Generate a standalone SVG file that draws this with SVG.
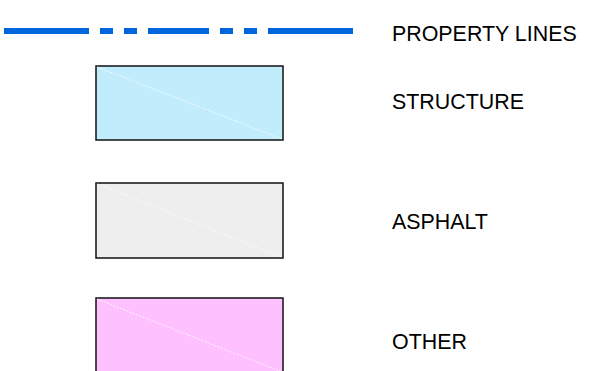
<svg xmlns="http://www.w3.org/2000/svg" width="604" height="371" viewBox="0 0 604 371">
<style>
.lbl{font-family:"Liberation Sans",Arial,sans-serif;font-size:21.4px;fill:#000}
.box{stroke:#111;stroke-width:1.5}
.diag{stroke:#fff;stroke-width:1;stroke-dasharray:2 1.5;opacity:0.9}
.pl{stroke:#0066dd;stroke-width:6;fill:none}
</style>
<rect width="604" height="371" fill="#fff"/>
<g id="property-lines">
<g class="pl">
<line x1="4" y1="31" x2="89" y2="31"/>
<line x1="100" y1="31" x2="113" y2="31"/>
<line x1="124" y1="31" x2="137" y2="31"/>
<line x1="148" y1="31" x2="209" y2="31"/>
<line x1="220" y1="31" x2="233" y2="31"/>
<line x1="244" y1="31" x2="257" y2="31"/>
<line x1="268" y1="31" x2="353" y2="31"/>
</g>
<text class="lbl" x="392" y="41">PROPERTY LINES</text>
</g>
<g id="structure">
<rect class="box" x="96" y="66" width="187" height="74" fill="#c0ecfc"/>
<line class="diag" x1="97" y1="67" x2="282" y2="139"/>
<text class="lbl" x="392" y="109">STRUCTURE</text>
</g>
<g id="asphalt">
<rect class="box" x="96" y="183" width="187" height="75" fill="#eeeeee"/>
<line class="diag" x1="97" y1="184" x2="282" y2="257"/>
<text class="lbl" x="392" y="229">ASPHALT</text>
</g>
<g id="other">
<rect class="box" x="96" y="298" width="187" height="75" fill="#ffc0ff"/>
<line class="diag" x1="97" y1="299" x2="282" y2="372"/>
<text class="lbl" x="392" y="349">OTHER</text>
</g>
</svg>
